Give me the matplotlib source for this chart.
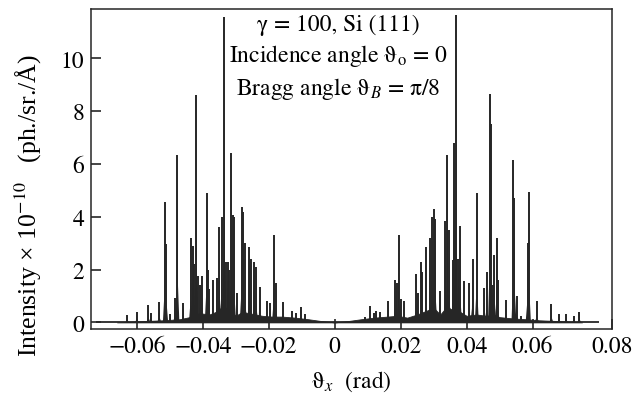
import numpy as np
import matplotlib
matplotlib.use("Agg")
import matplotlib.pyplot as plt

# peak positions (rad) and intensities (x 1e-10)
left_peak_x = [-0.0629, -0.0600, -0.0565, -0.0558, -0.0532, -0.0515, -0.0511,
               -0.0499, -0.0484, -0.0477, -0.0459, -0.0436, -0.0431, -0.0426,
               -0.0420, -0.0416, -0.0408, -0.0403, -0.0388, -0.0385, -0.0380,
               -0.0370, -0.0358, -0.0350, -0.0343, -0.0335, -0.0331, -0.0325,
               -0.0320, -0.0314, -0.0309, -0.0305, -0.0297, -0.0282, -0.0277,
               -0.0272, -0.0259, -0.0254, -0.0244, -0.0238, -0.0228, -0.0206,
               -0.0196, -0.0184, -0.0178, -0.0156, -0.0130, -0.0117, -0.0103,
               -0.0090]
left_peak_h = [0.28, 0.40, 0.65, 0.35, 0.77, 4.57, 2.96,
               0.30, 0.93, 6.34, 0.73, 3.20, 2.90, 2.20,
               8.62, 1.75, 1.40, 1.75, 4.90, 2.00, 1.25,
               1.60, 1.70, 3.60, 4.00, 11.55, 2.30, 2.30,
               2.00, 6.40, 4.05, 4.00, 1.10, 4.38, 4.20,
               3.00, 2.85, 2.40, 2.27, 2.10, 1.35, 0.80,
               0.75, 3.30, 1.50, 0.78, 0.45, 0.35, 0.57,
               0.30]

right_peak_x = [0.0092, 0.0107, 0.0118, 0.0126, 0.0137, 0.0163, 0.0183,
                0.0188, 0.0194, 0.0200, 0.0210, 0.0247, 0.0252, 0.0262,
                0.0265, 0.0277, 0.0289, 0.0295, 0.0301, 0.0305, 0.0318,
                0.0336, 0.0342, 0.0347, 0.0358, 0.0362, 0.0368, 0.0375,
                0.0380, 0.0392, 0.0408, 0.0418, 0.0431, 0.0454, 0.0461,
                0.0471, 0.0474, 0.0479, 0.0484, 0.0491, 0.0494, 0.0519,
                0.0542, 0.0545, 0.0552, 0.0566, 0.0585, 0.0589, 0.0613,
                0.0657, 0.0680, 0.0702, 0.0725, 0.0742]
right_peak_h = [0.20, 0.62, 0.35, 0.44, 0.40, 0.80, 1.60,
                1.50, 3.31, 0.90, 0.80, 1.85, 1.10, 2.30,
                1.90, 2.85, 3.20, 4.00, 4.30, 3.90, 1.20,
                3.85, 6.35, 3.50, 2.35, 6.80, 11.64, 2.40,
                3.65, 1.55, 1.50, 2.40, 4.90, 1.30, 1.90,
                8.64, 7.50, 1.40, 2.55, 3.20, 1.60, 0.85,
                6.16, 4.70, 1.00, 0.25, 3.00, 4.93, 0.80,
                0.70, 0.30, 0.33, 0.25, 0.38]

# dense low-level background under the peaks
base_x = [-0.066, -0.058, -0.052, -0.047, -0.044, -0.041, -0.038, -0.036,
          -0.034, -0.032, -0.030, -0.028, -0.026, -0.024, -0.022, -0.019,
          -0.016, -0.012, -0.008, -0.004, 0.0, 0.004, 0.008, 0.012, 0.016,
          0.019, 0.022, 0.025, 0.028, 0.030, 0.032, 0.034, 0.036, 0.038,
          0.040, 0.043, 0.046, 0.048, 0.050, 0.054, 0.058, 0.062, 0.068, 0.075]
base_y = [0.0, 0.05, 0.08, 0.12, 0.20, 0.35, 0.30, 0.40,
          0.60, 0.50, 0.25, 0.40, 0.35, 0.30, 0.25, 0.22,
          0.22, 0.18, 0.12, 0.05, 0.0, 0.05, 0.12, 0.18, 0.22,
          0.25, 0.18, 0.30, 0.45, 0.55, 0.30, 0.60, 0.45, 0.40,
          0.25, 0.30, 0.25, 0.30, 0.20, 0.15, 0.12, 0.08, 0.05, 0.0]

baseline_start, baseline_end = -0.0725, 0.0802

xtick_vals = [-0.06, -0.04, -0.02, 0, 0.02, 0.04, 0.06, 0.084]
xtick_labels = ["\u22120.06", "\u22120.04", "\u22120.02", "0", "0.02", "0.04", "0.06", "0.08"]
ytick_vals = [0, 2, 4, 6, 8, 10]

plt.rcParams["font.family"] = "STIXGeneral"
plt.rcParams["mathtext.fontset"] = "stix"

ink = "#262626"
fs = 17
foot_w = 0.0006   # half width of a peak foot
foot_f = 0.22     # foot height as fraction of peak


def draw_peaks(ax, xs, hs):
    for x, h in zip(xs, hs):
        ax.fill([x - foot_w, x - 0.3 * foot_w, x, x + 0.3 * foot_w, x + foot_w],
                [0, foot_f * h, h, foot_f * h, 0], color=ink, lw=0)
    ax.vlines(xs, 0, hs, color=ink, lw=1.4)


fig = plt.figure(figsize=(6.34, 4.06), dpi=100)
ax = fig.add_axes([91 / 634, 1 - 330 / 406, 520.7 / 634, 320 / 406])

ax.fill_between(base_x, 0, base_y, color=ink, lw=0.6)
draw_peaks(ax, left_peak_x, left_peak_h)
draw_peaks(ax, right_peak_x, right_peak_h)
ax.hlines(0, baseline_start, baseline_end, color=ink, lw=1.3)

ax.set_xlim(-0.0739, 0.0840)
ax.set_ylim(-0.25, 11.87)
ax.set_xticks(xtick_vals)
ax.set_xticklabels(xtick_labels)
ax.set_yticks(ytick_vals)
ax.tick_params(direction="in", length=7, width=1.2, labelsize=fs, color=ink)
ax.tick_params(axis="x", pad=5)
ax.tick_params(axis="y", pad=5)
for s in ax.spines.values():
    s.set_linewidth(1.1)
    s.set_color(ink)

ax.set_xlabel(r"$\mathrm{ϑ}_x$  (rad)", fontsize=fs)
ax.xaxis.set_label_coords(0.5, -0.125)
ax.set_ylabel("Intensity \u00d7 10$^{-10}$   (ph./sr./\u00c5)", fontsize=18.5,
              family=["Liberation Serif", "STIXGeneral"])
ax.yaxis.set_label_coords(-0.09, 0.39)

ax.text(0.001, 11.07, "γ = 100, Si (111)", ha="center", va="baseline", fontsize=fs)
ax.text(0.001, 9.9, r"Incidence angle $\mathrm{ϑ}_\mathrm{o}$ = 0", ha="center", va="baseline", fontsize=fs)
ax.text(0.001, 8.65, r"Bragg angle $\mathrm{ϑ}_B$ = π/8", ha="center", va="baseline", fontsize=fs)

fig.savefig("out.png", dpi=100)
